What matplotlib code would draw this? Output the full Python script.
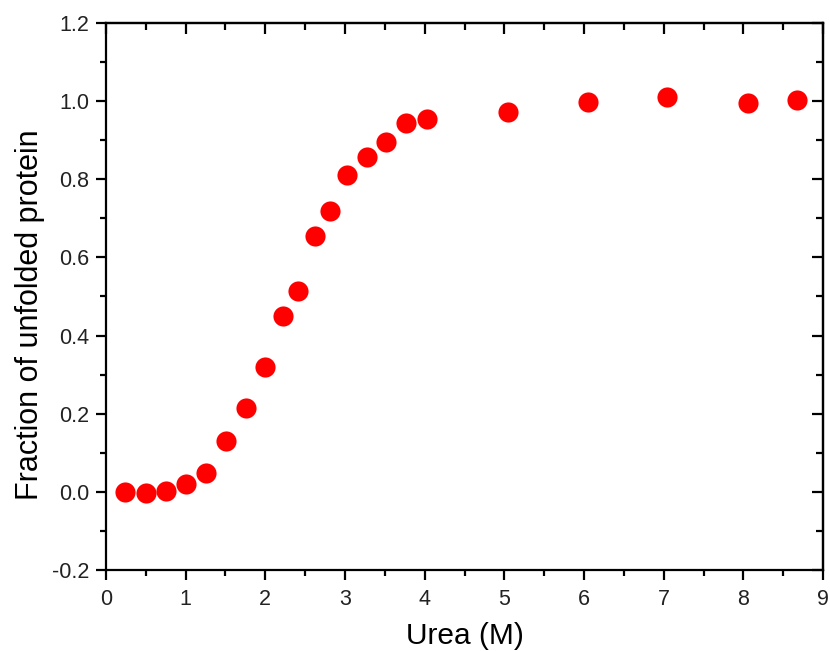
import matplotlib
matplotlib.use("Agg")
import matplotlib.pyplot as plt
from matplotlib.ticker import MultipleLocator

plt.rcParams['font.family'] = ['Liberation Sans', 'DejaVu Sans']

# urea concentration (M) and fraction of unfolded protein
urea = [0.24, 0.50, 0.75, 1.00, 1.26, 1.51, 1.76, 2.00, 2.22, 2.41, 2.62,
        2.81, 3.02, 3.28, 3.51, 3.77, 4.03, 5.04, 6.05, 7.04, 8.06, 8.67]
fraction = [0.000, -0.003, 0.001, 0.020, 0.048, 0.130, 0.214, 0.320, 0.450,
            0.513, 0.656, 0.720, 0.810, 0.858, 0.895, 0.945, 0.955, 0.972,
            0.997, 1.010, 0.994, 1.002]

fig = plt.figure(figsize=(8.3, 6.51), dpi=100)
ax = fig.add_axes([0.1277, 0.1244, 0.8639, 0.8403])

ax.plot(urea, fraction, 'o', color='#ff0000', markersize=14.5, markeredgewidth=0)

ax.set_xlim(0, 9)
ax.set_ylim(-0.2, 1.2)
ax.xaxis.set_major_locator(MultipleLocator(1))
ax.xaxis.set_minor_locator(MultipleLocator(0.5))
ax.yaxis.set_major_locator(MultipleLocator(0.2))
ax.yaxis.set_minor_locator(MultipleLocator(0.1))
ax.yaxis.set_major_formatter(plt.FuncFormatter(lambda v, p: f'{v:.1f}'))

for s in ax.spines.values():
    s.set_linewidth(1.6)

ax.tick_params(which='both', direction='out', width=1.6, labelsize=15.5,
               labelcolor='#222222', top=False, right=False)
ax.tick_params(which='major', length=7)
ax.tick_params(which='minor', length=4)
ax.tick_params(axis='x', which='major', pad=7)
ax.tick_params(axis='y', which='major', pad=5)

# inward ticks on top and right, as in Origin
ax2 = ax.secondary_xaxis('top')
ax2.xaxis.set_major_locator(MultipleLocator(1))
ax2.xaxis.set_minor_locator(MultipleLocator(0.5))
ax2.tick_params(which='both', direction='in', width=1.6, labeltop=False)
ax2.tick_params(which='major', length=8)
ax2.tick_params(which='minor', length=5)
ax2.spines['top'].set_linewidth(1.6)
ax3 = ax.secondary_yaxis('right')
ax3.yaxis.set_major_locator(MultipleLocator(0.2))
ax3.yaxis.set_minor_locator(MultipleLocator(0.1))
ax3.tick_params(which='both', direction='in', width=1.6, labelright=False)
ax3.tick_params(which='major', length=8)
ax3.tick_params(which='minor', length=5)
ax3.spines['right'].set_linewidth(1.6)

ax.set_xlabel('Urea (M)', fontsize=21.5, labelpad=8)
ax.set_ylabel('Fraction of unfolded protein', fontsize=22, labelpad=5)
ax.yaxis.label.set_y(0.466)

fig.savefig('out.png', dpi=100)
